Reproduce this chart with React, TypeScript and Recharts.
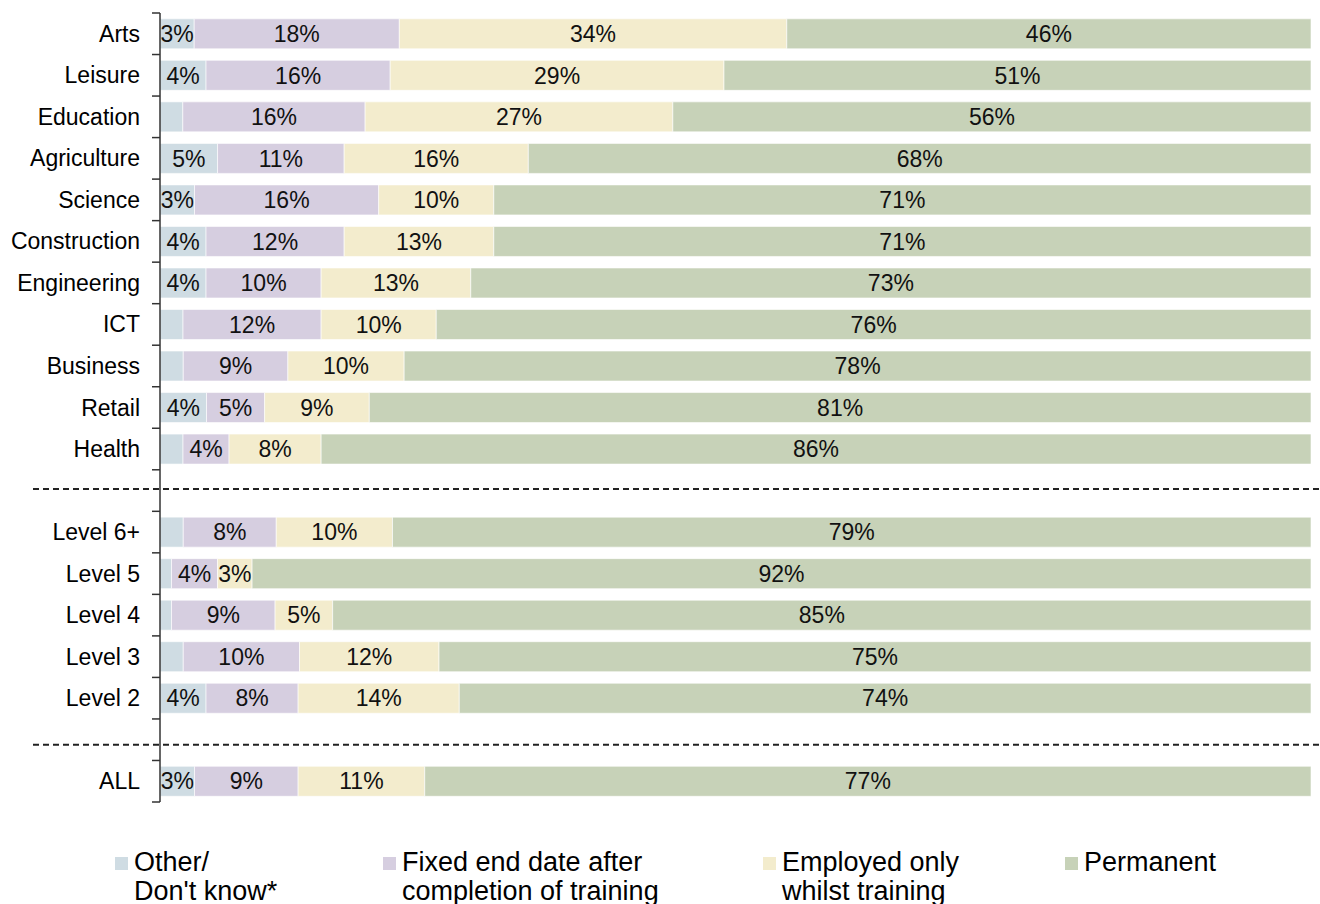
import React from 'react';
import { BarChart, Bar, XAxis, YAxis, Legend, LabelList, ReferenceLine } from 'recharts';

const categories = [
    'Arts', 'Leisure', 'Education', 'Agriculture', 'Science', 'Construction', 'Engineering',
    'ICT', 'Business', 'Retail', 'Health', ' ',
    'Level 6+', 'Level 5', 'Level 4', 'Level 3', 'Level 2', '  ',
    'ALL',
];

const other = [3, 4, 2, 5, 3, 4, 4, 2, 2, 4, 2, null, 2, 1, 1, 2, 4, null, 3];
const fixedEnd = [18, 16, 16, 11, 16, 12, 10, 12, 9, 5, 4, null, 8, 4, 9, 10, 8, null, 9];
const whilstTraining = [34, 29, 27, 16, 10, 13, 13, 10, 10, 9, 8, null, 10, 3, 5, 12, 14, null, 11];
const permanent = [46, 51, 56, 68, 71, 71, 73, 76, 78, 81, 86, null, 79, 92, 85, 75, 74, null, 77];

const SERIES = [
    { key: 'other', lines: ['Other/', "Don't know*"], color: '#CFDCE3', width: 268 },
    { key: 'fixedEnd', lines: ['Fixed end date after', 'completion of training'], color: '#D6CEE0', width: 380 },
    { key: 'whilstTraining', lines: ['Employed only', 'whilst training'], color: '#F3ECCD', width: 302 },
    { key: 'permanent', lines: ['Permanent'], color: '#C7D2B8', width: 200 },
];

const data = categories.map((name, i) => ({
    name,
    other: other[i],
    fixedEnd: fixedEnd[i],
    whilstTraining: whilstTraining[i],
    permanent: permanent[i],
}));

const FONT = '"Liberation Sans", Arial, sans-serif';

const CategoryTick = (props: any) => {
    const { x, y, payload, index } = props;
    const half = payload.offset || 20.76;
    const axisX = x + 8;
    const last = index === categories.length - 1;
    return (
        <g>
            <line x1={axisX - 8} x2={axisX} y1={y - half} y2={y - half} stroke="#333" strokeWidth={1.5} />
            {last && <line x1={axisX - 8} x2={axisX} y1={y + half} y2={y + half} stroke="#333" strokeWidth={1.5} />}
            <text x={axisX - 20} y={y} dy="0.35em" textAnchor="end" fontSize={23} fill="#000" fontFamily={FONT}>
                {payload.value}
            </text>
        </g>
    );
};

const DashedDivider = (dy: number) => (p: any) => (
    <line
        x1={p.x1 - 127}
        x2={p.x2 + 9}
        y1={p.y1 + dy}
        y2={p.y2 + dy}
        stroke="#222"
        strokeWidth={2}
        strokeDasharray="6 4"
    />
);

const LegendContent = () => (
    <div style={{ height: 102, boxSizing: 'border-box', paddingTop: 46, paddingLeft: 115, display: 'flex', fontFamily: FONT, fontSize: 27, color: '#000' }}>
        {SERIES.map((s) => (
            <div key={s.key} style={{ width: s.width, display: 'flex', alignItems: 'flex-start' }}>
                <span style={{ display: 'inline-block', width: 13, height: 13, background: s.color, marginTop: 9, marginRight: 6, flexShrink: 0 }} />
                <div style={{ lineHeight: '29px' }}>
                    {s.lines.map((l) => (
                        <div key={l} style={{ whiteSpace: 'nowrap' }}>{l}</div>
                    ))}
                </div>
            </div>
        ))}
    </div>
);

const fmt = (v: any) => (v != null && v >= 3 ? `${v}%` : '');

export default function App() {
    return (
        <div style={{ position: 'absolute', left: 0, top: 0, background: '#fff' }}>
            <BarChart
                width={1320}
                height={904}
                data={data}
                layout="vertical"
                stackOffset="expand"
                barCategoryGap="14%"
                margin={{ top: 13, right: 9, left: 0, bottom: 0 }}
            >
                <XAxis type="number" hide domain={[0, 1]} />
                <YAxis
                    type="category"
                    dataKey="name"
                    width={160}
                    axisLine={{ stroke: '#333', strokeWidth: 1.5 }}
                    tickLine={false}
                    tick={<CategoryTick />}
                    interval={0}
                />
                {SERIES.map((s) => (
                    <Bar key={s.key} dataKey={s.key} stackId="a" fill={s.color} stroke="#ffffff" strokeOpacity={0.6} strokeWidth={1} isAnimationActive={false}>
                        <LabelList dataKey={s.key} position="center" formatter={fmt} fill="#111" fontSize={23} fontFamily={FONT} />
                    </Bar>
                ))}
                <ReferenceLine y=" " ifOverflow="visible" shape={DashedDivider(-1.5)} />
                <ReferenceLine y="  " ifOverflow="visible" shape={DashedDivider(5)} />
                <Legend verticalAlign="bottom" content={<LegendContent />} />
            </BarChart>
        </div>
    );
}
